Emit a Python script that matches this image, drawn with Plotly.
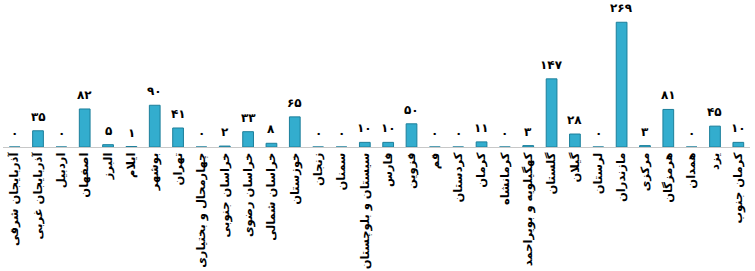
import plotly.graph_objects as go

categories = [
    "آذربایجان شرقی", "آذربایجان غربی", "اردبیل", "اصفهان", "البرز", "ایلام",
    "بوشهر", "تهران", "چهارمحال و بختیاری", "خراسان جنوبی", "خراسان رضوی",
    "خراسان شمالی", "خوزستان", "زنجان", "سمنان", "سیستان و بلوچستان", "فارس",
    "قزوین", "قم", "کردستان", "کرمان", "کرمانشاه", "کهگیلویه و بویراحمد",
    "گلستان", "گیلان", "لرستان", "مازندران", "مرکزی", "هرمزگان", "همدان",
    "یزد", "کرمان جنوب",
]
values = [0, 35, 0, 82, 5, 1, 90, 41, 0, 2, 33, 8, 65, 0, 0, 10, 10, 50, 0, 0,
          11, 0, 3, 147, 28, 0, 269, 3, 81, 0, 45, 10]

fa_digits = str.maketrans("0123456789", "۰۱۲۳۴۵۶۷۸۹")
labels = [str(v).translate(fa_digits) for v in values]

fig = go.Figure()
fig.add_trace(go.Bar(
    x=categories, y=values, width=0.46,
    marker=dict(color="#33ADCE", line=dict(color="#1C7F9B", width=1)),
    hoverinfo="x+y",
))
for c, v, t in zip(categories, values, labels):
    fig.add_annotation(x=c, y=v, text=t, showarrow=False, yanchor="bottom",
                       yshift=5, font=dict(family="DejaVu Sans", size=12, color="black", weight="bold"))

fig.update_layout(
    width=755, height=271,
    margin=dict(l=3, r=5, t=0, b=124),
    paper_bgcolor="white", plot_bgcolor="white",
    showlegend=False,
    font=dict(family="DejaVu Sans", size=11, color="black"),
)
fig.update_xaxes(type="category", tickangle=-90, showline=True, linecolor="#c8c8c8",
                 linewidth=1, ticks="", showgrid=False, automargin=False,
                 tickfont=dict(family="DejaVu Sans", size=11.5, color="black", weight="bold"))
fig.update_yaxes(range=[0, 317], visible=False, showgrid=False, zeroline=False)

fig.write_html("out.html")
